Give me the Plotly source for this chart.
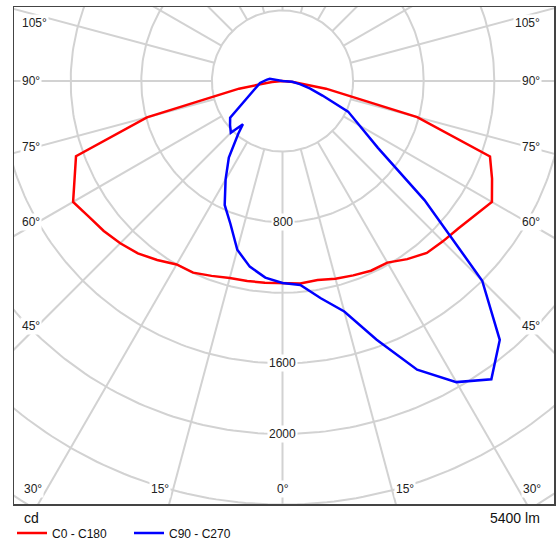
import numpy as np
import plotly.graph_objects as go

# ---------------- data (candela, gamma angle in degrees) ----------------
gamma = [0, 5, 10, 15, 20, 25, 30, 35, 40, 45, 50, 55, 60, 65, 70, 75, 80, 85, 90]
c0 = [1144, 1152, 1145, 1160, 1172, 1186, 1188, 1232, 1272, 1285, 1300, 1330, 1370,
      1310, 1251, 790, 250, 60, 0]
c180 = [1144, 1148, 1150, 1155, 1175, 1198, 1200, 1238, 1275, 1300, 1322, 1340, 1370,
        1300, 1245, 795, 250, 60, 0]
c90 = [1144, 1160, 1250, 1352, 1560, 1805, 1970, 2063, 1915, 1600, 1050, 660, 504,
       410, 241, 160, 100, 55, 0]
gamma_c270 = [0, 5, 10, 15, 20, 25, 30, 35, 40, 42.5, 45, 50, 55, 60, 65, 70, 75, 80,
              85, 90, 95, 100, 105]
c270 = [1144, 1118, 1068, 990, 862, 775, 645, 530, 390, 332, 414, 388, 362, 277, 220,
        184, 159, 141, 128, 105, 88, 73, 0]

ring_values = [400, 800, 1200, 1600, 2000, 2400, 2800]
ring_label_values = [800, 1600, 2000]
spoke_angles = list(range(0, 360, 15))
side_label_angles = [45, 60, 75, 90, 105]
bottom_label_angles = [0, 15, 30]
series_names = ["C0 - C180", "C90 - C270"]
series_colors = ["#ff0000", "#0000ff"]
unit_label = "cd"
flux_label = "5400 lm"

# ---------------- layout geometry ----------------
W, H = 560, 542
L, R, T, B = 14, 554, 7, 504          # plot frame in pixels
CX, CY = 282.5, 81.0                  # pole position in pixels
K = 70.6 / 400.0                      # pixels per candela
FONT = "Liberation Sans, Arial, sans-serif"
GRID = "rgb(210,210,210)"


def to_xy(ang, val, side):
    a = np.radians(np.asarray(ang, dtype=float))
    v = np.asarray(val, dtype=float)
    return side * v * np.sin(a), -v * np.cos(a)


fig = go.Figure()

# rings
t = np.linspace(0, 2 * np.pi, 361)
rx, ry = [], []
for rv in ring_values:
    rx += list(rv * np.cos(t)) + [None]
    ry += list(rv * np.sin(t)) + [None]
fig.add_trace(go.Scatter(x=rx, y=ry, mode="lines", line=dict(color=GRID, width=2),
                         hoverinfo="skip", showlegend=False))

# spokes (from first ring outwards)
sx, sy = [], []
for g in spoke_angles:
    a = np.radians(g)
    sx += [ring_values[0] * np.sin(a), 4000 * np.sin(a), None]
    sy += [-ring_values[0] * np.cos(a), -4000 * np.cos(a), None]
fig.add_trace(go.Scatter(x=sx, y=sy, mode="lines", line=dict(color=GRID, width=2),
                         hoverinfo="skip", showlegend=False))

# C0 - C180
xl, yl = to_xy(gamma[::-1], c180[::-1], -1)
xr, yr = to_xy(gamma, c0, 1)
fig.add_trace(go.Scatter(x=list(xl) + list(xr), y=list(yl) + list(yr), mode="lines",
                         name=series_names[0],
                         line=dict(color=series_colors[0], width=2.5)))
# C90 - C270
xl, yl = to_xy(gamma_c270[::-1], c270[::-1], -1)
xr, yr = to_xy(gamma, c90, 1)
fig.add_trace(go.Scatter(x=list(xl) + list(xr), y=list(yl) + list(yr), mode="lines",
                         name=series_names[1],
                         line=dict(color=series_colors[1], width=2.5)))

annotations = []
lab_font = dict(family=FONT, size=12, color="#222")

# ring labels along the 0 deg spoke
for rv in ring_label_values:
    annotations.append(dict(x=0, y=-rv, text=str(rv), showarrow=False, font=lab_font,
                            bgcolor="white", borderpad=1, xanchor="center",
                            yanchor="middle"))

# side angle labels
x_inner = 244.5 / K
y_cap = (CY - 23) / K
for g in side_label_angles:
    yv = -x_inner / np.tan(np.radians(g)) if g != 90 else 0.0
    yv = min(yv, y_cap)
    annotations.append(dict(x=-(CX - 20) / K, y=yv, text=f"{g}°", showarrow=False,
                            font=lab_font, bgcolor="white", borderpad=1,
                            xanchor="left", yanchor="middle"))
    annotations.append(dict(x=(542 - CX) / K, y=yv, text=f"{g}°", showarrow=False,
                            font=lab_font, bgcolor="white", borderpad=1,
                            xanchor="right", yanchor="middle"))

# bottom angle labels
y_bot = -(489 - CY) / K
for g in bottom_label_angles:
    off = 0 if g == 0 else abs(y_bot) * np.tan(np.radians(g)) + 13.5 / K
    for s in ([1] if g == 0 else [-1, 1]):
        annotations.append(dict(x=s * off, y=y_bot, text=f"{g}°", showarrow=False,
                                font=lab_font, bgcolor="white", borderpad=1,
                                xanchor="center", yanchor="middle"))

# unit / flux labels under the frame
annotations.append(dict(xref="paper", yref="paper", x=(22 - L) / (R - L),
                        y=-(518 - B) / (B - T), text=unit_label, showarrow=False,
                        font=dict(family=FONT, size=14, color="#111"),
                        xanchor="left", yanchor="middle"))
annotations.append(dict(xref="paper", yref="paper", x=(542 - L) / (R - L),
                        y=-(518 - B) / (B - T), text=flux_label, showarrow=False,
                        font=dict(family=FONT, size=14, color="#111"),
                        xanchor="right", yanchor="middle"))

axis_common = dict(showgrid=False, zeroline=False, showticklabels=False, ticks="",
                   showline=True, mirror=True, linecolor="#444", linewidth=1.5,
                   fixedrange=True)

fig.update_layout(
    width=W, height=H,
    margin=dict(l=L, r=W - R, t=T, b=H - B, pad=0, autoexpand=False),
    paper_bgcolor="white", plot_bgcolor="white",
    xaxis=dict(range=[(L - CX) / K, (R - CX) / K], **axis_common),
    yaxis=dict(range=[-(B - CY) / K, (CY - T) / K], **axis_common),
    annotations=annotations,
    showlegend=True,
    legend=dict(orientation="h", x=(12 - L) / (R - L), xanchor="left",
                y=-(533 - B) / (B - T), yanchor="middle",
                font=dict(family=FONT, size=12, color="#111"),
                bgcolor="rgba(0,0,0,0)", itemwidth=30,
                entrywidth=72, entrywidthmode="pixels"),
    hovermode=False,
)

fig.write_html("out.html",
               config={"displayModeBar": False, "staticPlot": True},
               post_script="document.body.style.margin='0';"
                           "document.body.style.padding='0';")
